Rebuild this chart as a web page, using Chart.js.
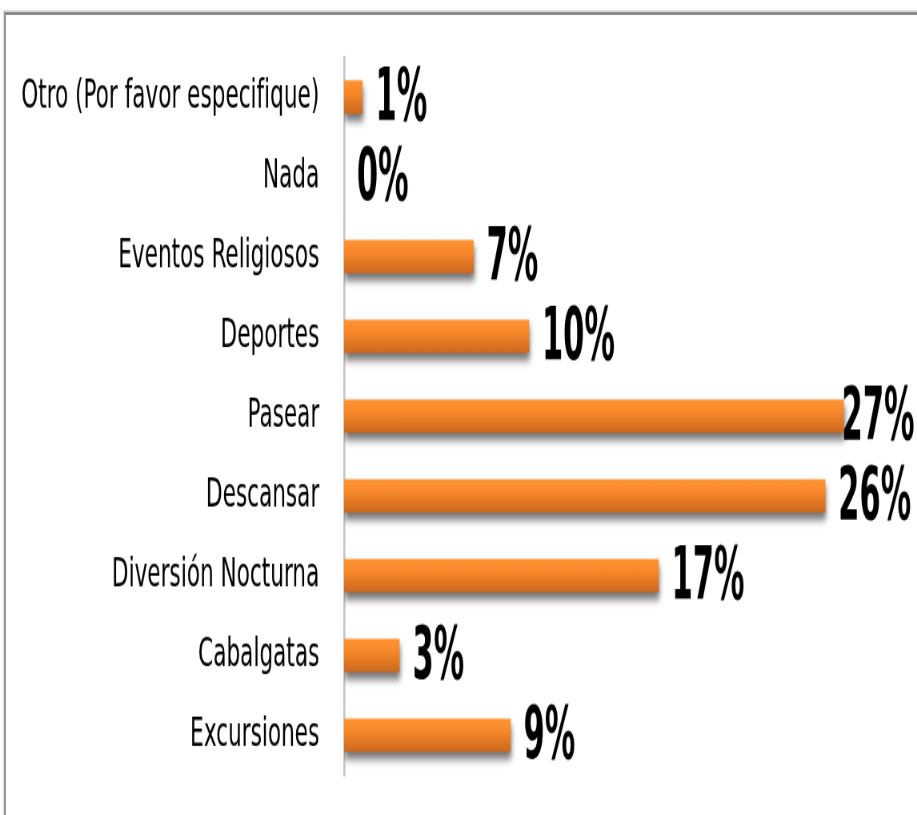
<!DOCTYPE html>
<html lang="es">
<head>
<meta charset="utf-8">
<title>Actividades preferidas</title>
<script src="https://cdn.jsdelivr.net/npm/chart.js@4.4.1/dist/chart.umd.min.js"></script>
<style>
    html, body { margin: 0; padding: 0; background: #fff; }
    body { width: 917px; height: 815px; position: relative; overflow: hidden; }
    .frame {
        position: absolute; left: 4px; top: 12px; right: -10px; bottom: -10px;
        border-top: 3px solid #8c8c8c; border-left: 2px solid #999;
        box-shadow: -1px -2px 0 #dadada;
    }
    /* the chart is laid out wide and short, then squeezed into 917x815 for the narrow lettering */
    .chart-box {
        position: absolute; left: 0; top: 0; width: 1146px; height: 613px;
        transform: scale(0.8002, 1.3295); transform-origin: 0 0;
    }
</style>
</head>
<body>
<div class="frame"></div>
<div class="chart-box"><canvas id="activityChart"></canvas></div>
<script>
const categories = [
    'Otro (Por favor especifique)',
    'Nada',
    'Eventos Religiosos',
    'Deportes',
    'Pasear',
    'Descansar',
    'Diversión Nocturna',
    'Cabalgatas',
    'Excursiones'
];
const percentValues = [1, 0, 7, 10, 27, 26, 17, 3, 9];

const BAR_PCT = 0.42;
const LABEL_FONT = "'Liberation Sans Narrow', 'DejaVu Sans Condensed', 'Arial Narrow', sans-serif";

// vertical orange gradient for each bar, built from the category scale
function barGradient(c) {
    const chart = c.chart;
    const yScale = chart.scales.y;
    if (!yScale || !chart.chartArea) return '#F28A2E';
    const center = yScale.getPixelForValue(c.dataIndex);
    const half = (yScale.height / categories.length) * BAR_PCT / 2;
    const g = chart.ctx.createLinearGradient(0, center - half, 0, center + half);
    g.addColorStop(0, '#FF9332');
    g.addColorStop(0.35, '#F98A2C');
    g.addColorStop(1, '#CC671C');
    return g;
}

const barShadow = {
    id: 'barShadow',
    beforeDatasetsDraw(chart) {
        const ctx = chart.ctx;
        ctx.save();
        ctx.shadowColor = 'rgba(0, 0, 0, 0.55)';
        ctx.shadowBlur = 6;
        ctx.shadowOffsetX = 1;
        ctx.shadowOffsetY = 5;
    },
    afterDatasetsDraw(chart) {
        chart.ctx.restore();
    }
};

// big condensed percentage next to each bar
const valueLabels = {
    id: 'valueLabels',
    afterDatasetsDraw(chart) {
        const ctx = chart.ctx;
        const meta = chart.getDatasetMeta(0);
        const squeeze = 0.77;
        ctx.save();
        ctx.font = 'bold 55px ' + LABEL_FONT;
        ctx.fillStyle = '#000';
        ctx.textBaseline = 'middle';
        ctx.textAlign = 'left';
        meta.data.forEach((bar, i) => {
            const text = percentValues[i] + '%';
            const w = ctx.measureText(text).width * squeeze;
            const x = Math.min(bar.x + 16, chart.width - 3 - w);
            ctx.save();
            ctx.translate(x, bar.y + 3);
            ctx.scale(squeeze, 1);
            ctx.fillText(text, 0, 0);
            ctx.restore();
        });
        ctx.restore();
    }
};

new Chart(document.getElementById('activityChart'), {
    type: 'bar',
    data: {
        labels: categories,
        datasets: [{
            data: percentValues,
            backgroundColor: barGradient,
            borderWidth: 0,
            barPercentage: BAR_PCT,
            categoryPercentage: 1
        }]
    },
    options: {
        indexAxis: 'y',
        responsive: true,
        maintainAspectRatio: false,
        animation: false,
        layout: { padding: { left: 0, right: 22, top: 43, bottom: 30 } },
        scales: {
            x: { display: false, min: 0, max: 30 },
            y: {
                afterFit(scale) {
                    scale.width = 430;
                    scale.paddingTop = 0;
                    scale.paddingBottom = 0;
                },
                grid: { display: false, drawTicks: false },
                border: { display: true, color: '#c4c4c4', width: 2.5 },
                ticks: {
                    padding: 31,
                    color: '#000',
                    font: { family: LABEL_FONT, size: 30 }
                }
            }
        },
        plugins: {
            legend: { display: false },
            tooltip: { enabled: false }
        }
    },
    plugins: [barShadow, valueLabels]
});
</script>
</body>
</html>
